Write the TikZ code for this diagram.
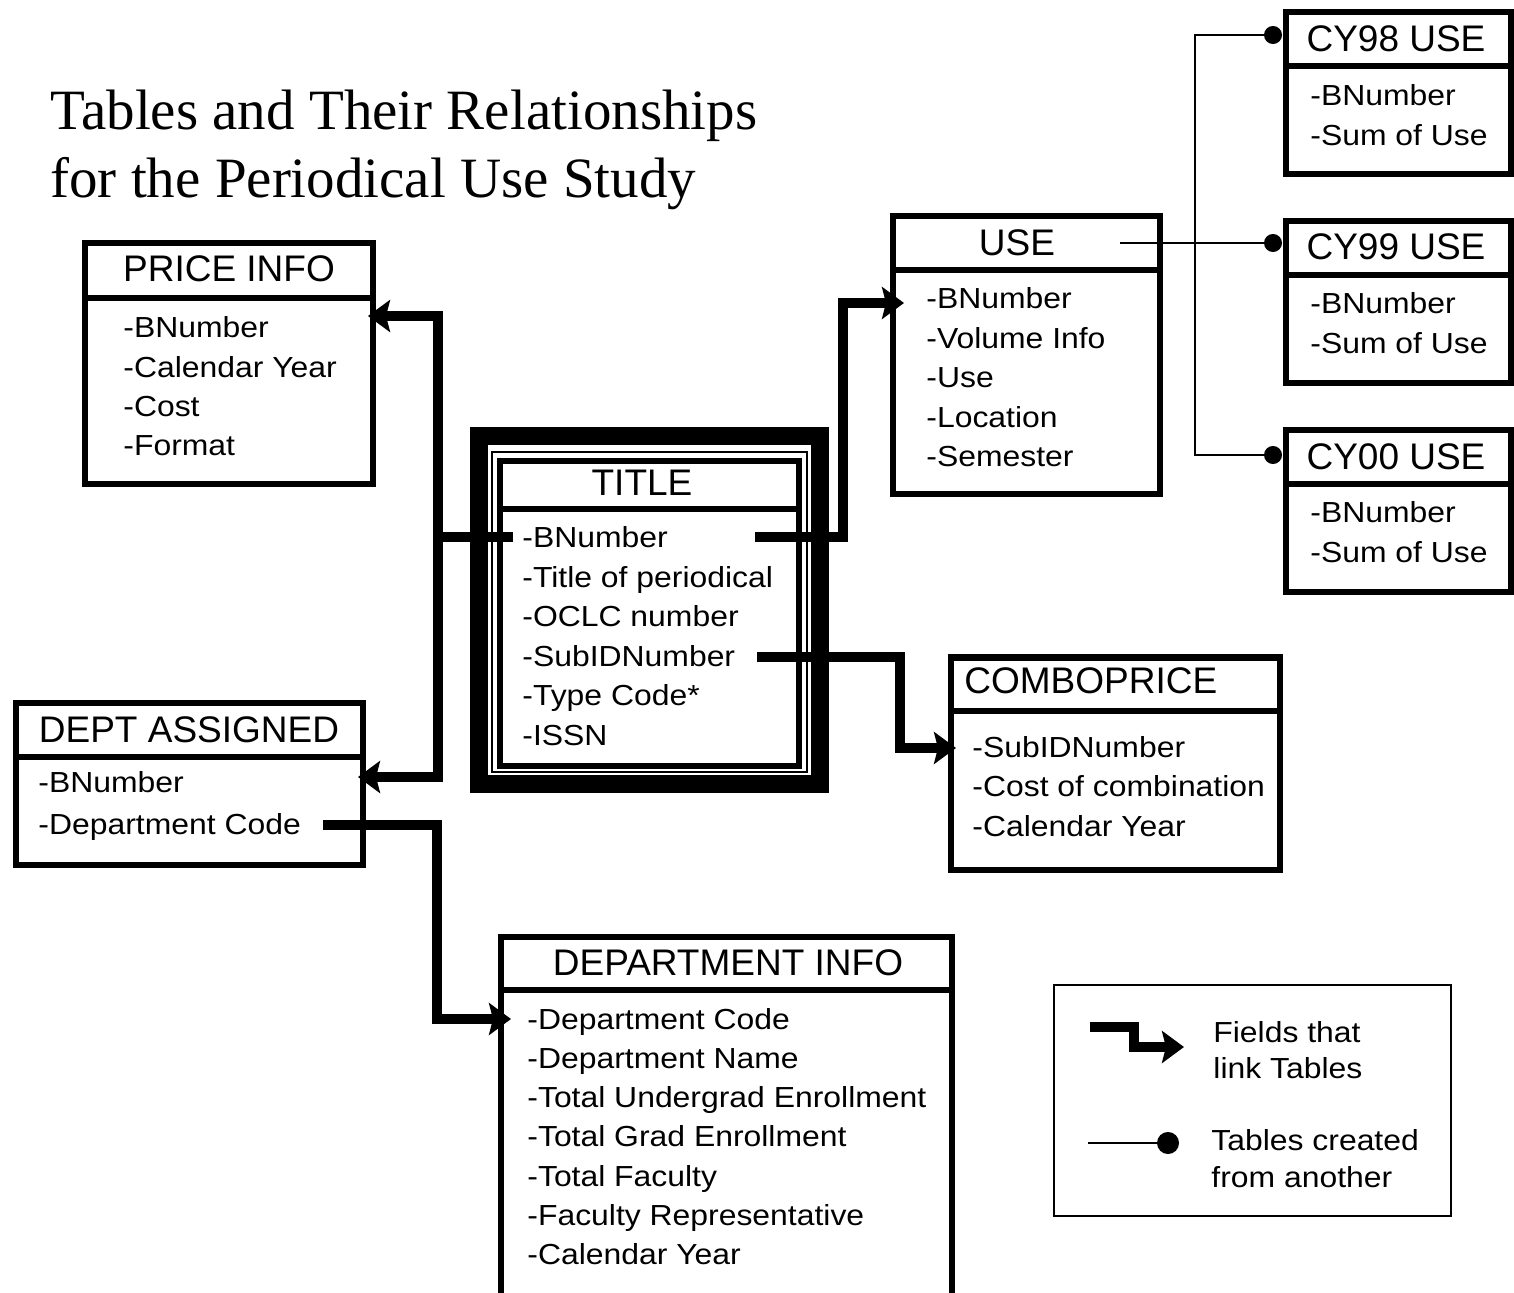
\documentclass[tikz,border=0pt]{standalone}
\usepackage{fontspec}
\setmainfont{Liberation Sans}
\newfontfamily\serifhead{Liberation Serif}
\newfontfamily\fieldfam[FakeStretch=1.1]{Liberation Sans}
\usetikzlibrary{arrows.meta,calc}
\tikzset{
  tbl/.style={draw, line width=3pt, outer sep=0pt, inner sep=0pt, anchor=north west},
  framebox/.style={draw, line width=9pt, outer sep=0pt, inner sep=0pt, anchor=north west},
  thinbox/.style={draw, line width=1pt, outer sep=0pt, inner sep=0pt, anchor=north west},
  hdr/.style={font=\fontsize{18.5}{22}\selectfont, inner sep=0pt},
  fld/.style={font=\fieldfam\fontsize{14.5}{18}\selectfont, anchor=base west, inner sep=0pt},
  heading/.style={font=\serifhead\fontsize{28.5}{34}\selectfont, anchor=base west, inner sep=0pt},
  linkplain/.style={line width=5pt, line join=miter},
  linkarrow/.style={line width=5pt, line join=miter, -{Stealth[length=11pt,width=16pt,inset=2pt]}},
  derivedline/.style={line width=1pt, line join=miter},
  sepline/.style={line width=3pt}
}
\newcommand\tblsep[2]{\draw[sepline] ($(#1.north west)+(0,#2)$) -- ($(#1.north east)+(0,#2)$);}
\newcommand\fieldlist[5]{%
  \foreach \t [count=\i] in {#5} {\node[fld] (#1-\i) at (#2,{#3+(\i-1)*#4}) {\t};}}
\begin{document}
\begin{tikzpicture}[x=0.5pt,y=-0.5pt]
\useasboundingbox (0,0) rectangle (1514,1293);
\clip (0,0) rectangle (1514,1293);
\fill[white] (0,0) rectangle (1514,1293);

% heading
\node[heading] (head1) at (50,130) {Tables and Their Relationships};
\node[heading] (head2) at (50,198) {for the Periodical Use Study};

% PRICE INFO
\node[tbl, minimum width=144pt, minimum height=120.5pt] (price) at (85,243.5) {};
\tblsep{price}{55}
\node[hdr] (priceH) at (229,269) {PRICE INFO};
\fieldlist{priceF}{123}{338}{39.3}{-BNumber,-Calendar Year,-Cost,-Format}

% DEPT ASSIGNED
\node[tbl, minimum width=173.5pt, minimum height=81pt] (depta) at (15.5,702.5) {};
\tblsep{depta}{54}
\node[hdr] (deptaH) at (189,730) {DEPT ASSIGNED};
\fieldlist{deptaF}{38}{792}{42}{-BNumber,-Department Code}

% TITLE
\node[framebox, minimum width=170.5pt, minimum height=174pt] (titleframe) at (479,436) {};
\node[thinbox, minimum width=157.5pt, minimum height=160pt] (titlethin) at (492,452) {};
\node[tbl, minimum width=149.5pt, minimum height=152pt] (title) at (499.5,461.5) {};
\tblsep{title}{48}
\node[hdr] (titleH) at (642,483) {TITLE};
\fieldlist{titleF}{522}{548}{39.4}{-BNumber,-Title of periodical,-OCLC number,-SubIDNumber,-Type Code*,-ISSN}

% USE
\node[tbl, minimum width=133.75pt, minimum height=139.25pt] (use) at (892.5,216) {};
\tblsep{use}{54}
\node[hdr] (useH) at (1017,243) {USE};
\fieldlist{useF}{926}{309}{39.5}{-BNumber,-Volume Info,-Use,-Location,-Semester}

% CY tables
\node[tbl, minimum width=112.5pt, minimum height=81pt] (cy98) at (1285.5,12.5) {};
\tblsep{cy98}{54}
\node[hdr] (cy98H) at (1396,39) {CY98 USE};
\fieldlist{cy98F}{1310}{106}{39.5}{-BNumber,-Sum of Use}

\node[tbl, minimum width=112.5pt, minimum height=81pt] (cy99) at (1285.5,221.5) {};
\tblsep{cy99}{54}
\node[hdr] (cy99H) at (1396,247) {CY99 USE};
\fieldlist{cy99F}{1310}{314}{39.5}{-BNumber,-Sum of Use}

\node[tbl, minimum width=112.5pt, minimum height=81pt] (cy00) at (1285.5,430.5) {};
\tblsep{cy00}{54}
\node[hdr] (cy00H) at (1396,457) {CY00 USE};
\fieldlist{cy00F}{1310}{523}{39.5}{-BNumber,-Sum of Use}

% COMBOPRICE
\node[tbl, minimum width=164.75pt, minimum height=106.25pt] (combo) at (950.5,657.5) {};
\tblsep{combo}{53}
\node[hdr, anchor=west] (comboH) at (964,681) {COMBOPRICE};
\fieldlist{comboF}{972}{757}{39.5}{-SubIDNumber,-Cost of combination,-Calendar Year}

% DEPARTMENT INFO
\node[tbl, minimum width=225.5pt, minimum height=190pt] (depti) at (500.5,936.5) {};
\tblsep{depti}{53}
\node[hdr] (deptiH) at (728,963) {DEPARTMENT INFO};
\fieldlist{deptiF}{527}{1029}{39.3}{-Department Code,-Department Name,-Total Undergrad Enrollment,-Total Grad Enrollment,-Total Faculty,-Faculty Representative,-Calendar Year}

% Legend
\node[thinbox, minimum width=198.5pt, minimum height=115.5pt] (legend) at (1054,985) {};
\node[fld] (lg1) at (1213,1042) {Fields that};
\node[fld] (lg2) at (1213,1078) {link Tables};
\node[fld] (lg3) at (1211,1150) {Tables created};
\node[fld] (lg4) at (1211,1187) {from another};
\coordinate (lgA) at (1090,1027);
\coordinate (lgB) at (1184,1047);
\draw[linkarrow] (lgA) -- ++(44,0) |- (lgB);
\coordinate (lgC) at (1088,1143);
\coordinate (lgD) at (1179,1143);
\draw[derivedline, -{Circle[length=11pt]}] (lgC) -- (lgD);

% link connectors
\coordinate (tbL) at (513,537);
\coordinate (jL) at (438,537);
\coordinate (priceIn) at (368,316);
\coordinate (deptaIn) at (358,777);
\draw[linkplain] (tbL) -- (jL);
\draw[linkarrow] (jL) |- (priceIn);
\draw[linkarrow] (jL) |- (deptaIn);

\coordinate (tbR) at (755,537);
\coordinate (useIn) at (904,303);
\draw[linkarrow] (tbR) -- ++(88,0) |- (useIn);

\coordinate (tbS) at (757,657);
\coordinate (comboIn) at (956,748);
\draw[linkarrow] (tbS) -- ++(143,0) |- (comboIn);

\coordinate (daC) at (323,825);
\coordinate (diIn) at (511,1019);
\draw[linkarrow] (daC) -- ++(114,0) |- (diIn);

% derived tables
\coordinate (useT) at (1120,243);
\coordinate (cy98In) at (1282,35);
\coordinate (cy99In) at (1282,243);
\coordinate (cy00In) at (1282,455);
\draw[derivedline, -{Circle[length=9pt]}] (useT) -- (cy99In);
\draw[derivedline, {Circle[length=9pt]}-{Circle[length=9pt]}] (cy98In) -| (1195,455) -- (cy00In);
\end{tikzpicture}
\end{document}
